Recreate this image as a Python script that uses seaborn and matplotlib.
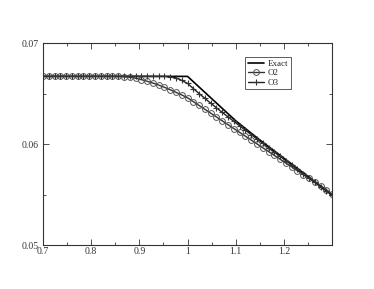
import numpy as np
import pandas as pd
import matplotlib
matplotlib.use("Agg")
import matplotlib.pyplot as plt
from matplotlib.ticker import MultipleLocator
import seaborn as sns

# grid used by the two schemes
x_grid = [0.700, 0.712, 0.724, 0.736, 0.748, 0.760, 0.772, 0.784, 0.796, 0.808,
          0.820, 0.832, 0.844, 0.856, 0.868, 0.880, 0.892, 0.904, 0.916, 0.928,
          0.940, 0.952, 0.964, 0.976, 0.988, 1.000, 1.012, 1.024, 1.036, 1.048,
          1.060, 1.072, 1.084, 1.096, 1.108, 1.120, 1.132, 1.144, 1.156, 1.168,
          1.180, 1.192, 1.204, 1.216, 1.228, 1.240, 1.252, 1.264, 1.276, 1.288,
          1.300]

o2 = [0.0667] * 14 + [
    0.06668, 0.06662, 0.06652, 0.06638, 0.06622, 0.06604, 0.06584, 0.06562,
    0.06538, 0.06512, 0.06486, 0.06458, 0.06420, 0.06382, 0.06344, 0.06306,
    0.06268, 0.06230, 0.06192, 0.06154, 0.06116, 0.06078, 0.06040, 0.06002,
    0.05964, 0.05926, 0.05888, 0.05850, 0.05812, 0.05774, 0.05736, 0.05698,
    0.05660, 0.05622, 0.05584, 0.05546, 0.05505]

o3 = [0.0667] * 22 + [
    0.06668, 0.06655, 0.06630, 0.06600, 0.06550, 0.06500, 0.06452, 0.06405,
    0.06359, 0.06314, 0.06269, 0.06225, 0.06181, 0.06137, 0.06094, 0.06051,
    0.06008, 0.05965, 0.05922, 0.05879, 0.05836, 0.05793, 0.05750, 0.05707,
    0.05664, 0.05621, 0.05578, 0.05535, 0.05492]

x_exact = [0.70, 1.00, 1.05, 1.10, 1.15, 1.20, 1.25, 1.30]
y_exact = [0.0667, 0.0667, 0.0645, 0.0623, 0.0604, 0.0586, 0.0568, 0.0550]

sns.set_style("ticks")
plt.rcParams['font.family'] = ['Liberation Serif', 'DejaVu Serif']

fig = plt.figure(figsize=(3.74, 2.89), dpi=100)
ax = fig.add_axes([0.115, 0.152, 0.773, 0.699])

sns.lineplot(x=x_exact, y=y_exact, ax=ax, color='black', linewidth=1.2,
             label='Exact')
sns.lineplot(x=x_grid, y=o2, ax=ax, color='#333333', linewidth=1.0,
             marker='o', markersize=4.2, markerfacecolor='none',
             markeredgecolor='#555555', markeredgewidth=0.7, label='O2')
sns.lineplot(x=x_grid, y=o3, ax=ax, color='#222222', linewidth=1.0,
             marker='+', markersize=5, markeredgewidth=0.8,
             markeredgecolor='#333333', label='O3')

ax.set_xlim(0.7, 1.3)
ax.set_ylim(0.05, 0.07)
ax.xaxis.set_major_locator(MultipleLocator(0.1))
ax.xaxis.set_minor_locator(MultipleLocator(0.05))
ax.yaxis.set_major_locator(MultipleLocator(0.01))
ax.yaxis.set_minor_locator(MultipleLocator(0.005))
ax.set_xticks([0.7, 0.8, 0.9, 1.0, 1.1, 1.2])
ax.set_xticklabels(['0.7', '0.8', '0.9', '1', '1.1', '1.2'])
ax.set_yticks([0.05, 0.06, 0.07])
ax.set_yticklabels(['0.05', '0.06', '0.07'])
ax.tick_params(which='both', direction='in', top=True, right=True,
               labelsize=7, width=0.6, colors='#333333')
ax.tick_params(axis='x', pad=1.5)
ax.tick_params(axis='y', pad=3)
ax.tick_params(which='major', length=4)
ax.tick_params(which='minor', length=2)
for s in ax.spines.values():
    s.set_linewidth(0.8)
    s.set_color('#333333')

leg = ax.legend(loc='upper left', bbox_to_anchor=(0.70, 0.93), fontsize=6.5,
                frameon=True, fancybox=False, borderpad=0.3, labelspacing=0.1,
                handlelength=1.8, handletextpad=0.4, borderaxespad=0)
leg.get_frame().set_edgecolor('#333333')
leg.get_frame().set_linewidth(0.7)

fig.savefig('out.png', dpi=100)
